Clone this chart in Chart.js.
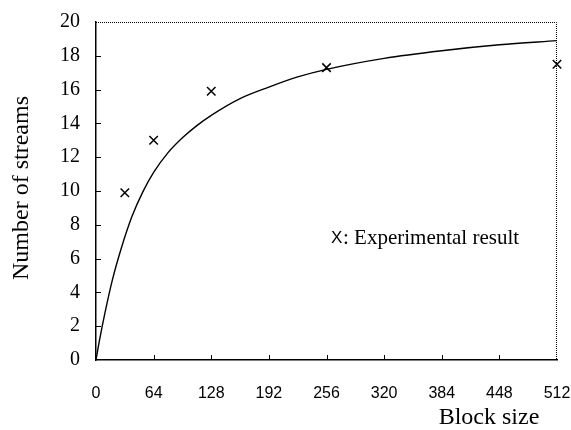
<!DOCTYPE html>
<html>
<head>
<meta charset="utf-8">
<script src="https://cdn.jsdelivr.net/npm/chart.js@4"></script>
<style>
  html, body { margin: 0; padding: 0; background: #fff; }
  #wrap { width: 571px; height: 430px; }
</style>
</head>
<body>
<div id="wrap"><canvas id="chart" width="571" height="430"></canvas></div>
<script>
// ── data ────────────────────────────────────────────────
const blockSizes = [32, 64, 128, 256, 512];
const measuredStreams = [9.9, 13.0, 15.9, 17.3, 17.5];

const curveX = [0, 4, 10, 18, 28, 40, 52, 64, 80, 96, 112, 128, 160, 192, 224, 256, 320, 384, 448, 512];
const curveY = [0, 1.2, 2.8, 4.7, 6.6, 8.5, 9.95, 11.1, 12.27, 13.15, 13.87, 14.48, 15.47, 16.15, 16.75, 17.2, 17.85, 18.3, 18.65, 18.9];

const xTicks = [0, 64, 128, 192, 256, 320, 384, 448, 512];
const yTicks = [0, 2, 4, 6, 8, 10, 12, 14, 16, 18, 20];

const serif = "'Liberation Serif', 'Times New Roman', serif";
const sans = "'Liberation Sans', Arial, sans-serif";

// frame, inward ticks, axis titles and the note inside the plot
const decor = {
  id: 'decor',
  afterDatasetsDraw(chart) {
    const { ctx, chartArea: a, scales } = chart;
    ctx.save();
    ctx.strokeStyle = '#000';

    // dotted top and right edges
    ctx.lineWidth = 1;
    ctx.setLineDash([1, 1]);
    ctx.beginPath();
    ctx.moveTo(a.left, a.top + 0.5);
    ctx.lineTo(a.right - 0.5, a.top + 0.5);
    ctx.lineTo(a.right - 0.5, a.bottom);
    ctx.stroke();
    ctx.setLineDash([]);

    // inward tick marks
    ctx.beginPath();
    yTicks.slice(1, -1).forEach(v => {
      const y = Math.round(scales.y.getPixelForValue(v)) + 0.5;
      ctx.moveTo(a.left, y);
      ctx.lineTo(a.left + 5, y);
    });
    xTicks.slice(1, -1).forEach(v => {
      const x = Math.round(scales.x.getPixelForValue(v)) + 0.5;
      ctx.moveTo(x, a.bottom);
      ctx.lineTo(x, a.bottom - 5);
    });
    ctx.stroke();

    // note
    ctx.fillStyle = '#000';
    ctx.textBaseline = 'middle';
    ctx.textAlign = 'left';
    ctx.font = '17px ' + sans;
    ctx.fillText('X', 331, 238);
    ctx.font = '21px ' + serif;
    ctx.fillText(': Experimental result', 343, 238);

    // axis titles
    ctx.font = '24px ' + serif;
    ctx.textAlign = 'center';
    ctx.fillText('Block size', 489, 418);
    ctx.translate(22, (a.top + a.bottom) / 2 - 3);
    ctx.rotate(-Math.PI / 2);
    ctx.fillText('Number of streams', 0, 0);
    ctx.restore();
  }
};

new Chart(document.getElementById('chart'), {
  type: 'scatter',
  data: {
    datasets: [
      {
        label: 'Model',
        data: curveX.map((x, i) => ({ x, y: curveY[i] })),
        showLine: true,
        borderColor: '#000',
        borderWidth: 1.4,
        pointRadius: 0,
        cubicInterpolationMode: 'monotone',
        fill: false
      },
      {
        label: 'Experimental result',
        data: blockSizes.map((x, i) => ({ x, y: measuredStreams[i] })),
        pointStyle: 'crossRot',
        pointRadius: 6,
        borderColor: '#000',
        borderWidth: 1.5,
        clip: false
      }
    ]
  },
  options: {
    responsive: false,
    animation: false,
    layout: { padding: { top: 22, right: 14, left: 0, bottom: 0 } },
    plugins: {
      legend: { display: false },
      tooltip: { enabled: false }
    },
    scales: {
      x: {
        type: 'linear',
        min: 0,
        max: 512,
        afterBuildTicks: s => { s.ticks = xTicks.map(v => ({ value: v })); },
        afterFit: s => {
          s.height = 70;
          s.paddingLeft = 0;
          s.paddingRight = 0;
        },
        grid: { display: false, drawTicks: false },
        border: { display: true, color: '#000', width: 1.5 },
        ticks: {
          color: '#000',
          padding: 24,
          maxRotation: 0,
          font: { family: sans, size: 16 }
        }
      },
      y: {
        min: 0,
        max: 20,
        afterBuildTicks: s => { s.ticks = yTicks.map(v => ({ value: v })); },
        afterFit: s => {
          s.width = 96;
          s.paddingTop = 0;
          s.paddingBottom = 0;
        },
        grid: { display: false, drawTicks: false },
        border: { display: true, color: '#000', width: 1.5 },
        ticks: {
          color: '#000',
          padding: 16,
          font: { family: serif, size: 20 }
        }
      }
    }
  },
  plugins: [decor]
});
</script>
</body>
</html>
